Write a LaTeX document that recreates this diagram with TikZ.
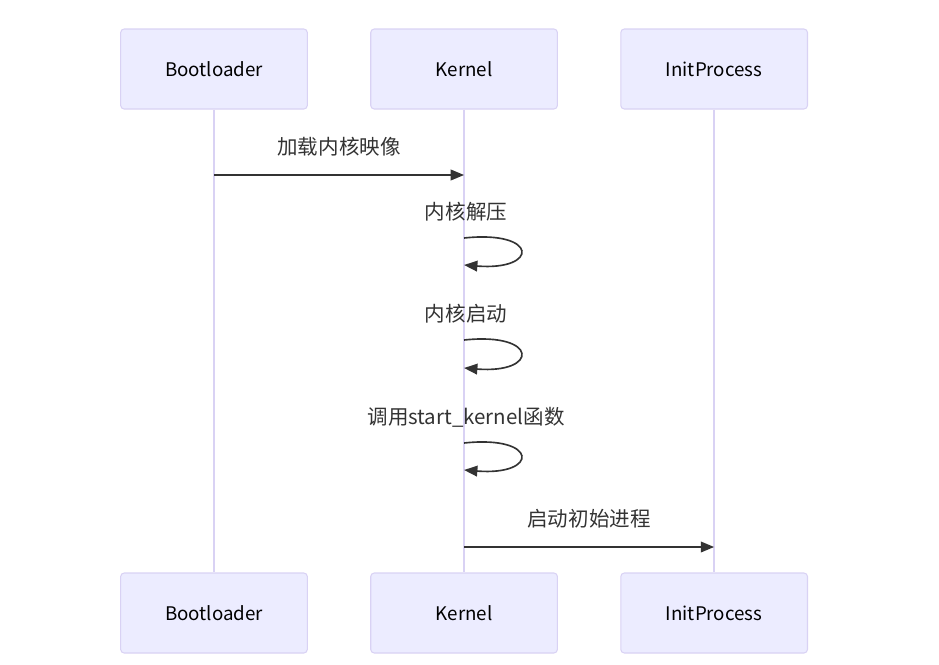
\documentclass[tikz,border=0pt]{standalone}
\usepackage{fontspec}
\setmainfont{Noto Sans CJK SC}
\usetikzlibrary{arrows.meta,positioning}
\definecolor{actorfill}{HTML}{ECECFF}
\definecolor{actorline}{HTML}{D9D2F4}
\definecolor{msgcol}{HTML}{333333}

\begin{document}
\begin{tikzpicture}[x=0.03cm, y=-0.03cm, every node/.style={font=\fontsize{17.5}{20}\selectfont}]
    \useasboundingbox (0,0) rectangle (939,665);
    \tikzset{
        actor/.style={draw=actorline, fill=actorfill, rectangle, rounded corners=3pt, line width=0.9pt, minimum width=5.6cm, minimum height=2.4cm, text=black, font=\fontsize{16}{19}\selectfont},
        lifeline/.style={draw=actorline, line width=1.9pt},
        msg/.style={draw=msgcol, line width=1.4pt, -{Triangle[length=0.4cm, width=0.32cm]}},
        msglabel/.style={text=msgcol}
    }

    % Actors (top)
    \node[actor] (bootTop) at (214,69) {Bootloader};
    \node[actor, right=1.87cm of bootTop] (kernTop) {Kernel};
    \node[actor, right=1.87cm of kernTop] (initTop) {InitProcess};

    % Actors (bottom)
    \node[actor] (bootBot) at (214,613) {Bootloader};
    \node[actor, right=1.87cm of bootBot] (kernBot) {Kernel};
    \node[actor, right=1.87cm of kernBot] (initBot) {InitProcess};

    % Lifelines
    \draw[lifeline] (bootTop) -- (bootBot);
    \draw[lifeline] (kernTop) -- (kernBot);
    \draw[lifeline] (initTop) -- (initBot);

    % Message points on lifelines
    \coordinate (b1) at (bootTop.south |- 0,175);
    \coordinate (k1) at (kernTop.south |- 0,175);
    \coordinate (k2a) at (kernTop.south |- 0,238);
    \coordinate (k2b) at (kernTop.south |- 0,265);
    \coordinate (k3a) at (kernTop.south |- 0,340);
    \coordinate (k3b) at (kernTop.south |- 0,368);
    \coordinate (k4a) at (kernTop.south |- 0,443);
    \coordinate (k4b) at (kernTop.south |- 0,470);
    \coordinate (k5) at (kernTop.south |- 0,547);
    \coordinate (i5) at (initTop.south |- 0,547);

    % Bootloader -> Kernel
    \draw[msg] (b1) -- (k1);
    \node[msglabel] (m1) at (339,147) {加载内核映像};

    % Kernel self calls
    \node[msglabel] (m2) at (466,212) {内核解压};
    \draw[msg] (k2a) .. controls ++(75,-8) and ++(75,6) .. (k2b);
    \node[msglabel] (m3) at (466,314) {内核启动};
    \draw[msg] (k3a) .. controls ++(75,-8) and ++(75,6) .. (k3b);
    \node[msglabel] (m4) at (466,417) {调用start\_kernel函数};
    \draw[msg] (k4a) .. controls ++(75,-8) and ++(75,6) .. (k4b);

    % Kernel -> InitProcess
    \draw[msg] (k5) -- (i5);
    \node[msglabel] (m5) at (589,519) {启动初始进程};
\end{tikzpicture}
\end{document}
